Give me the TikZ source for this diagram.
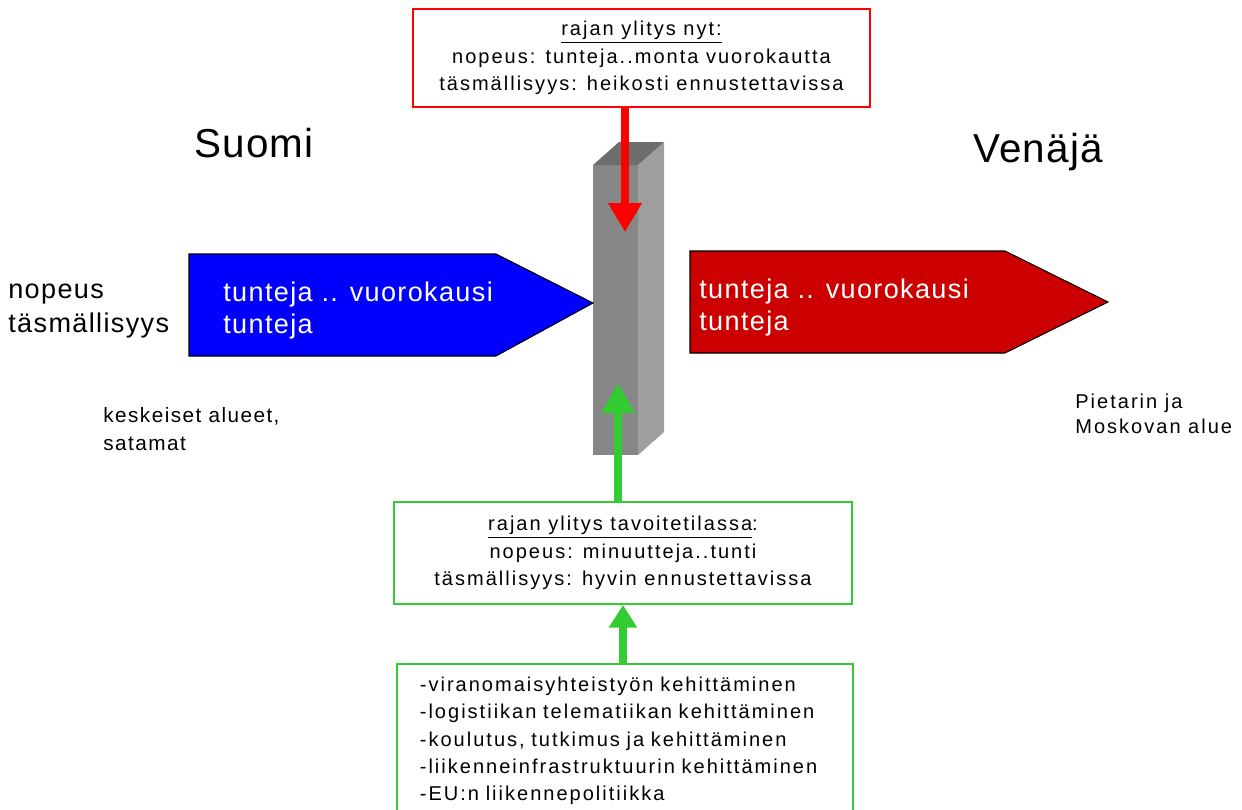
\documentclass[tikz,border=0pt]{standalone}
\usepackage{fontspec}
\setmainfont{Liberation Sans}
\newfontfamily\boxfont[LetterSpace=10]{Liberation Sans}
\newfontfamily\sidefont[LetterSpace=5]{Liberation Sans}
\newfontfamily\regionfont[LetterSpace=7]{Liberation Sans}
\newfontfamily\titlefont[LetterSpace=3]{Liberation Sans}
\usetikzlibrary{arrows.meta, positioning}
\definecolor{suomiblue}{HTML}{0000FF}
\definecolor{venajared}{HTML}{CC0000}
\definecolor{goalgreen}{HTML}{33CC33}

\begin{document}
\begin{tikzpicture}[x=0.02cm, y=-0.02cm,
	% tekstityylit
	title/.style={inner sep=0pt, anchor=base west, font=\titlefont\fontsize{23}{27}\selectfont},
	side/.style={inner sep=0pt, anchor=base west, align=left, font=\sidefont\fontsize{15.4}{19.3}\selectfont},
	inarrow/.style={inner sep=0pt, anchor=base west, align=left, text=white, font=\sidefont\fontsize{15.4}{18.2}\selectfont},
	region/.style={inner sep=0pt, anchor=base west, align=left, font=\regionfont\fontsize{11.8}{15.9}\selectfont},
	% laatikot
	infobox/.style={draw, rectangle, fill=white, align=center, inner sep=0pt, font=\boxfont\fontsize{11.4}{15.6}\selectfont},
	% nuolet
	bigarrow/.style={draw=black, line width=0.6pt},
	redarrow/.style={-{Triangle[length=16.5pt, width=18.2pt]}, red, line width=4.5pt},
	greenarrow/.style={-{Triangle[length=17pt, width=17.6pt]}, goalgreen, line width=4.5pt}
	]

	\useasboundingbox (0,0) rectangle (1242,809);
	\clip (0,0) rectangle (1242,809);

	% --- RAJA (pylvas) ---
	\fill[black!38] (638,165) -- (664,142) -- (664,432) -- (638,455) -- cycle;
	\fill[black!47] (593,165) rectangle (638,455);
	\fill[black!57] (593,165) -- (619,142) -- (664,142) -- (638,165) -- cycle;

	% --- OTSIKOT ---
	\node[title] (suomi) at (194,157) {Suomi};
	\node[title] (venaja) at (973,162) {Venäjä};
	\node[side] (mittarit) at (8,332) {nopeus\\täsmällisyys};

	% --- SUOMEN PUOLI ---
	\filldraw[bigarrow, fill=suomiblue] (189,254) -- (496,254) -- (593,303) -- (496,356) -- (189,356) -- cycle;
	\node[inarrow] (suomitext) at (223,333) {tunteja .. vuorokausi\\tunteja};
	\node[region] (suomialue) at (103,450) {keskeiset alueet,\\satamat};

	% --- VENAJAN PUOLI ---
	\filldraw[bigarrow, fill=venajared] (690,251) -- (1005,251) -- (1108,302) -- (1005,353) -- (690,353) -- cycle;
	\node[inarrow] (venajatext) at (699,330) {tunteja .. vuorokausi\\tunteja};
	\node[region, font=\boxfont\fontsize{11.4}{14.2}\selectfont] (venajaalue) at (1075,433) {Pietarin ja\\Moskovan alue};

	% --- LAATIKOT ---
	\node[infobox, draw=red, line width=1.4pt, minimum width=9.14cm, minimum height=1.96cm] (nyt) at (641.5,58)
		{\underline{rajan ylitys nyt:}\\nopeus: tunteja..monta vuorokautta\\täsmällisyys: heikosti ennustettavissa};
	\node[infobox, draw=goalgreen, line width=1pt, minimum width=9.16cm, minimum height=2.04cm] (tavoite) at (623,553)
		{\underline{rajan ylitys tavoitetilassa}:\\nopeus: minuutteja..tunti\\täsmällisyys: hyvin ennustettavissa};
	\node[infobox, draw=goalgreen, line width=1pt, anchor=north west, align=left, inner xsep=0.46cm,
		text width=8.2cm, minimum height=3.08cm] (keinot) at (396,663)
		{-viranomaisyhteistyön kehittäminen\\-logistiikan telematiikan kehittäminen\\-koulutus, tutkimus ja kehittäminen\\-liikenneinfrastruktuurin kehittäminen\\-EU:n liikennepolitiikka};

	% --- NUOLET ---
	\coordinate (nytkarki) at (625,232);
	\coordinate (tavoitekarki) at (618,383);
	\draw[redarrow] (nyt.south -| nytkarki) -- (nytkarki);
	\draw[greenarrow] (tavoite.north -| tavoitekarki) -- (tavoitekarki);
	\draw[greenarrow, line width=4pt, -{Triangle[length=13pt, width=15.4pt]}] (keinot.north -| tavoite) -- (tavoite.south);

\end{tikzpicture}
\end{document}
